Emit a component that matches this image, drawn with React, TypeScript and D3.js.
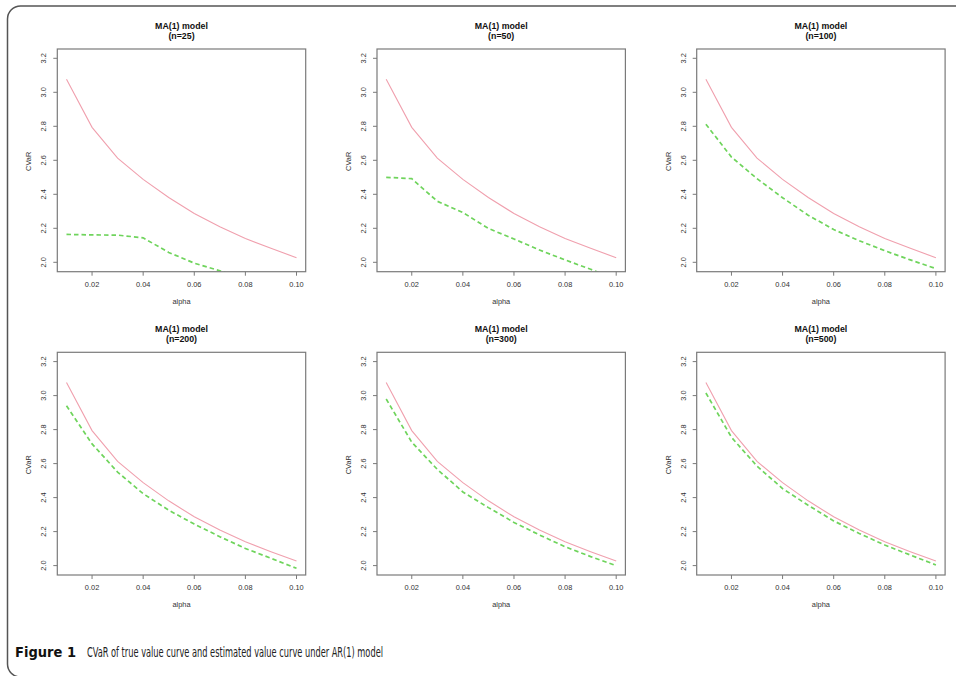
import React, { useRef, useEffect } from "react";
import * as d3 from "d3";

// alpha grid shared by every panel
const alphas = [0.01, 0.02, 0.03, 0.04, 0.05, 0.06, 0.07, 0.08, 0.09, 0.1];

// true CVaR curve (same in all panels)
const trueCVaR = [3.077, 2.794, 2.613, 2.488, 2.381, 2.287, 2.209, 2.14, 2.082, 2.027];

// estimated CVaR curves, one per sample size
const est25 = [2.164, 2.161, 2.16, 2.144, 2.058, 1.995, 1.95, 1.9, 1.86, 1.82];
const est50 = [2.5, 2.492, 2.359, 2.293, 2.199, 2.137, 2.072, 2.014, 1.959, 1.9];
const est100 = [2.812, 2.619, 2.492, 2.38, 2.277, 2.193, 2.127, 2.068, 2.014, 1.963];
const est200 = [2.94, 2.716, 2.55, 2.423, 2.326, 2.244, 2.17, 2.101, 2.043, 1.984];
const est300 = [2.98, 2.726, 2.566, 2.433, 2.341, 2.254, 2.18, 2.111, 2.053, 2.0];
const est500 = [3.015, 2.755, 2.585, 2.453, 2.355, 2.263, 2.189, 2.121, 2.062, 2.004];

const sampleSizes = [25, 50, 100, 200, 300, 500];
const estimates = [est25, est50, est100, est200, est300, est500];

const xTicks = [0.02, 0.04, 0.06, 0.08, 0.1];
const yTicks = [2.0, 2.2, 2.4, 2.6, 2.8, 3.0, 3.2];

const W = 956;
const H = 676;

const App = () => {
  const svgRef = useRef(null);

  useEffect(() => {
    const svg = d3.select(svgRef.current);
    svg.selectAll("*").remove();

    // frame around the figure
    svg
      .append("rect")
      .attr("x", 7.5)
      .attr("y", 6)
      .attr("width", 1000)
      .attr("height", 671)
      .attr("rx", 13)
      .attr("fill", "none")
      .attr("stroke", "#555")
      .attr("stroke-width", 1.5);

    const boxW = 248.4;
    const boxH = 222.7;
    const rText = "Liberation Sans, Arial, sans-serif";

    sampleSizes.forEach((n, i) => {
      const col = i % 3;
      const row = Math.floor(i / 3);
      const left = 57.3 + col * 319.7;
      const top = 49 + row * 303.3;

      const x = d3.scaleLinear().domain([0.0064, 0.1036]).range([left, left + boxW]);
      const y = d3.scaleLinear().domain([1.9447, 3.2547]).range([top + boxH, top]);

      const g = svg.append("g");
      const clipId = `clip-${n}`;
      g.append("clipPath")
        .attr("id", clipId)
        .append("rect")
        .attr("x", left)
        .attr("y", top)
        .attr("width", boxW)
        .attr("height", boxH);

      const line = d3
        .line()
        .x((d) => x(d[0]))
        .y((d) => y(d[1]));

      // true value curve
      g.append("path")
        .attr("clip-path", `url(#${clipId})`)
        .attr("d", line(alphas.map((a, k) => [a, trueCVaR[k]])))
        .attr("fill", "none")
        .attr("stroke", "#f0a0ae")
        .attr("stroke-width", 1.1);

      // estimated value curve
      g.append("path")
        .attr("clip-path", `url(#${clipId})`)
        .attr("d", line(alphas.map((a, k) => [a, estimates[i][k]])))
        .attr("fill", "none")
        .attr("stroke", "#6fd45c")
        .attr("stroke-width", 1.7)
        .attr("stroke-dasharray", "4.5,3");

      // plot box
      g.append("rect")
        .attr("x", left)
        .attr("y", top)
        .attr("width", boxW)
        .attr("height", boxH)
        .attr("fill", "none")
        .attr("stroke", "#7a7a7a")
        .attr("stroke-width", 1.2);

      // x axis ticks + labels
      xTicks.forEach((t) => {
        g.append("line")
          .attr("x1", x(t))
          .attr("x2", x(t))
          .attr("y1", top + boxH)
          .attr("y2", top + boxH + 4)
          .attr("stroke", "#7a7a7a")
          .attr("stroke-width", 1);
        g.append("text")
          .attr("x", x(t))
          .attr("y", top + boxH + 15)
          .attr("text-anchor", "middle")
          .attr("font-family", rText)
          .attr("font-size", 7.4)
          .attr("fill", "#333")
          .text(d3.format(".2f")(t));
      });

      // y axis ticks + rotated labels
      yTicks.forEach((t) => {
        g.append("line")
          .attr("x1", left - 4)
          .attr("x2", left)
          .attr("y1", y(t))
          .attr("y2", y(t))
          .attr("stroke", "#7a7a7a")
          .attr("stroke-width", 1);
        g.append("text")
          .attr("transform", `translate(${left - 11},${y(t)}) rotate(-90)`)
          .attr("text-anchor", "middle")
          .attr("font-family", rText)
          .attr("font-size", 7.4)
          .attr("fill", "#333")
          .text(d3.format(".1f")(t));
      });

      // axis titles
      g.append("text")
        .attr("x", left + boxW / 2)
        .attr("y", top + boxH + 32)
        .attr("text-anchor", "middle")
        .attr("font-family", rText)
        .attr("font-size", 7.4)
        .attr("fill", "#333")
        .text("alpha");

      g.append("text")
        .attr("transform", `translate(${left - 26},${top + boxH / 2 + 1}) rotate(-90)`)
        .attr("text-anchor", "middle")
        .attr("font-family", rText)
        .attr("font-size", 7.4)
        .attr("fill", "#333")
        .text("CVaR");

      // panel title
      const title = g
        .append("text")
        .attr("text-anchor", "middle")
        .attr("font-family", rText)
        .attr("font-size", 8.8)
        .attr("font-weight", "bold")
        .attr("fill", "#111");
      title.append("tspan").attr("x", left + boxW / 2).attr("y", top - 20).text("MA(1) model");
      title.append("tspan").attr("x", left + boxW / 2).attr("y", top - 10).text(`(n=${n})`);
    });

    // figure caption
    const capFont = "'Liberation Sans Narrow', 'DejaVu Sans Condensed', 'Open Sans', sans-serif";
    svg
      .append("text")
      .attr("x", 15)
      .attr("y", 656.5)
      .attr("font-family", capFont)
      .attr("font-size", 14.5)
      .attr("font-weight", "bold")
      .attr("fill", "#111")
      .attr("textLength", 61)
      .attr("lengthAdjust", "spacingAndGlyphs")
      .text("Figure 1");
    svg
      .append("text")
      .attr("x", 87)
      .attr("y", 656.5)
      .attr("font-family", capFont)
      .attr("font-size", 14.5)
      .attr("fill", "#222")
      .attr("textLength", 296)
      .attr("lengthAdjust", "spacingAndGlyphs")
      .text("CVaR of true value curve and estimated value curve under AR(1) model");
  }, []);

  return (
    <svg
      ref={svgRef}
      width={W}
      height={H}
      style={{ position: "absolute", left: 0, top: 0, background: "#fff" }}
    />
  );
};

export default App;
